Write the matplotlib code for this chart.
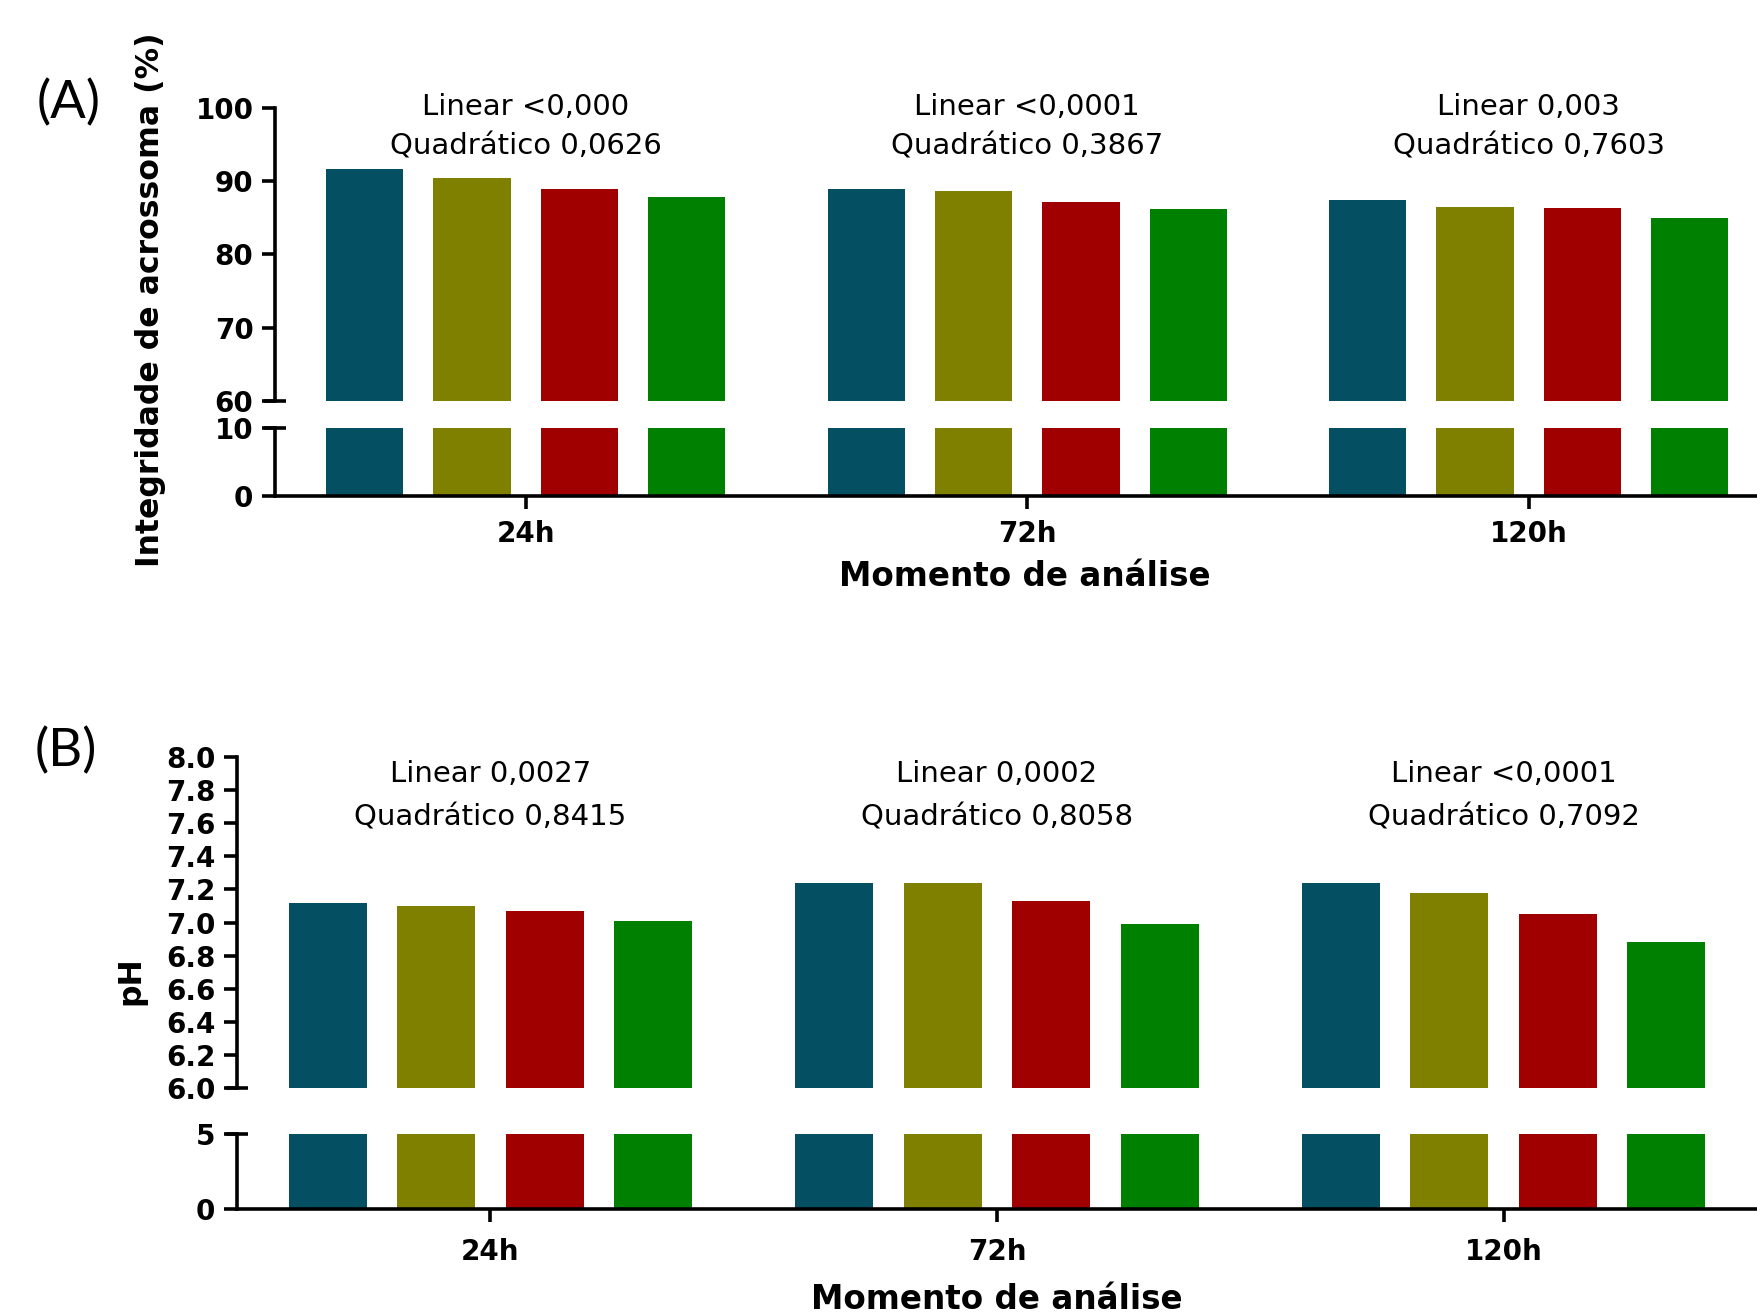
import matplotlib.pyplot as plt
import matplotlib.transforms as mtransforms
import numpy as np

plt.rcParams["font.family"] = ["DejaVu Sans"]

grupos = ["24h", "72h", "120h"]
cores = ["#054f63", "#808000", "#a00000", "#008000"]

# integridade de acrossoma (%), um array por tratamento
acro_1 = [91.6, 88.9, 87.4]
acro_2 = [90.5, 88.7, 86.5]
acro_3 = [88.9, 87.1, 86.4]
acro_4 = [87.8, 86.2, 85.0]

# pH
ph_1 = [7.12, 7.24, 7.24]
ph_2 = [7.10, 7.24, 7.18]
ph_3 = [7.07, 7.13, 7.05]
ph_4 = [7.01, 6.99, 6.88]

acro_lin = ["Linear <0,000", "Linear <0,0001", "Linear 0,003"]
acro_quad = ["Quadrático 0,0626", "Quadrático 0,3867", "Quadrático 0,7603"]
ph_lin = ["Linear 0,0027", "Linear 0,0002", "Linear <0,0001"]
ph_quad = ["Quadrático 0,8415", "Quadrático 0,8058", "Quadrático 0,7092"]

LW = 2.6


def draw_panel(fig, rect_top, rect_bot, series, top_lim, bot_lim, top_ticks,
               bot_ticks, fmt, lin, quad, text_y, ylabel, ylabel_xy,
               xlabel_xy, xpad, letter, letter_xy):
    ax_top = fig.add_axes(rect_top)
    ax_bot = fig.add_axes(rect_bot)
    x = np.arange(len(grupos))

    for i, (vals, c) in enumerate(zip(series, cores)):
        off = (i - 1.5) * 0.214
        for ax in (ax_top, ax_bot):
            ax.bar(x + off, vals, width=0.154, color=c, edgecolor="none")

    for ax in (ax_top, ax_bot):
        ax.set_xlim(-0.5, 2.5)
        ax.spines["top"].set_visible(False)
        ax.spines["right"].set_visible(False)
        ax.spines["left"].set_linewidth(LW)
        ax.spines["bottom"].set_linewidth(LW)
        ax.yaxis.remove_overlapping_locs = False
        ax.tick_params(axis="y", direction="out", length=9.5, width=LW,
                       labelsize=20, pad=6)
        # the break ends get a tick crossing the axis
        ax.tick_params(axis="y", which="minor", direction="inout",
                       length=16, width=LW)

    ax_top.set_ylim(*top_lim)
    ax_top.set_yticks(top_ticks)
    ax_top.set_yticklabels([fmt.format(t) for t in top_ticks])
    ax_top.set_yticks([top_lim[0]], minor=True)
    ax_top.spines["bottom"].set_visible(False)
    ax_top.tick_params(axis="x", bottom=False, labelbottom=False)

    ax_bot.set_ylim(*bot_lim)
    ax_bot.set_yticks(bot_ticks)
    ax_bot.set_yticklabels([str(t) for t in bot_ticks])
    ax_bot.set_yticks([bot_lim[1]], minor=True)
    ax_bot.set_xticks(x)
    ax_bot.set_xticklabels(grupos)
    ax_bot.tick_params(axis="x", direction="out", length=9, width=LW,
                       labelsize=20, pad=xpad)

    for lab in ax_top.get_yticklabels() + ax_bot.get_yticklabels() + ax_bot.get_xticklabels():
        lab.set_fontweight("bold")

    trans = mtransforms.blended_transform_factory(ax_top.transData, ax_top.transAxes)
    for xi, l1, l2 in zip(x, lin, quad):
        ax_top.text(xi, text_y[0], l1, transform=trans, ha="center", va="center",
                    fontsize=21)
        ax_top.text(xi, text_y[1], l2, transform=trans, ha="center", va="center",
                    fontsize=21)

    ax_top.set_ylabel(ylabel, fontsize=22.7, fontweight="bold")
    ax_top.yaxis.set_label_coords(*ylabel_xy)
    ax_top.yaxis.label.set_va("center")

    ax_bot.set_xlabel("Momento de análise", fontsize=23.5, fontweight="bold")
    ax_bot.xaxis.set_label_coords(*xlabel_xy)
    ax_bot.xaxis.label.set_va("center")

    fig.text(letter_xy[0], letter_xy[1], letter, ha="center", va="center",
             fontsize=38, family=["Lato", "DejaVu Sans"])
    return ax_top, ax_bot


fig = plt.figure(figsize=(17.57, 13.15), dpi=100)

draw_panel(fig,
           [0.1565, 0.6951, 0.8563, 0.2228], [0.1565, 0.6228, 0.8563, 0.0517],
           [acro_1, acro_2, acro_3, acro_4],
           (60, 100), (0, 10), [60, 70, 80, 90, 100], [0, 10], "{:d}",
           acro_lin, acro_quad, (1.003, 0.870),
           "Integridade de acrossoma (%)", (-0.0824, 0.345),
           (0.4985, -1.19), 8, "(A)", (69 / 1757, 1 - 103 / 1315))

draw_panel(fig,
           [0.1349, 0.1726, 0.8651, 0.2517], [0.1349, 0.0806, 0.8651, 0.0567],
           [ph_1, ph_2, ph_3, ph_4],
           (6.0, 8.0), (0, 5), list(np.round(np.arange(6.0, 8.01, 0.2), 1)), [0, 5],
           "{:.1f}", ph_lin, ph_quad, (0.949, 0.816),
           "pH", (-0.0697, 0.323),
           (0.5, -1.22), 12, "(B)", (66 / 1757, 1 - 751 / 1315))

fig.savefig("out.png", dpi=100)
